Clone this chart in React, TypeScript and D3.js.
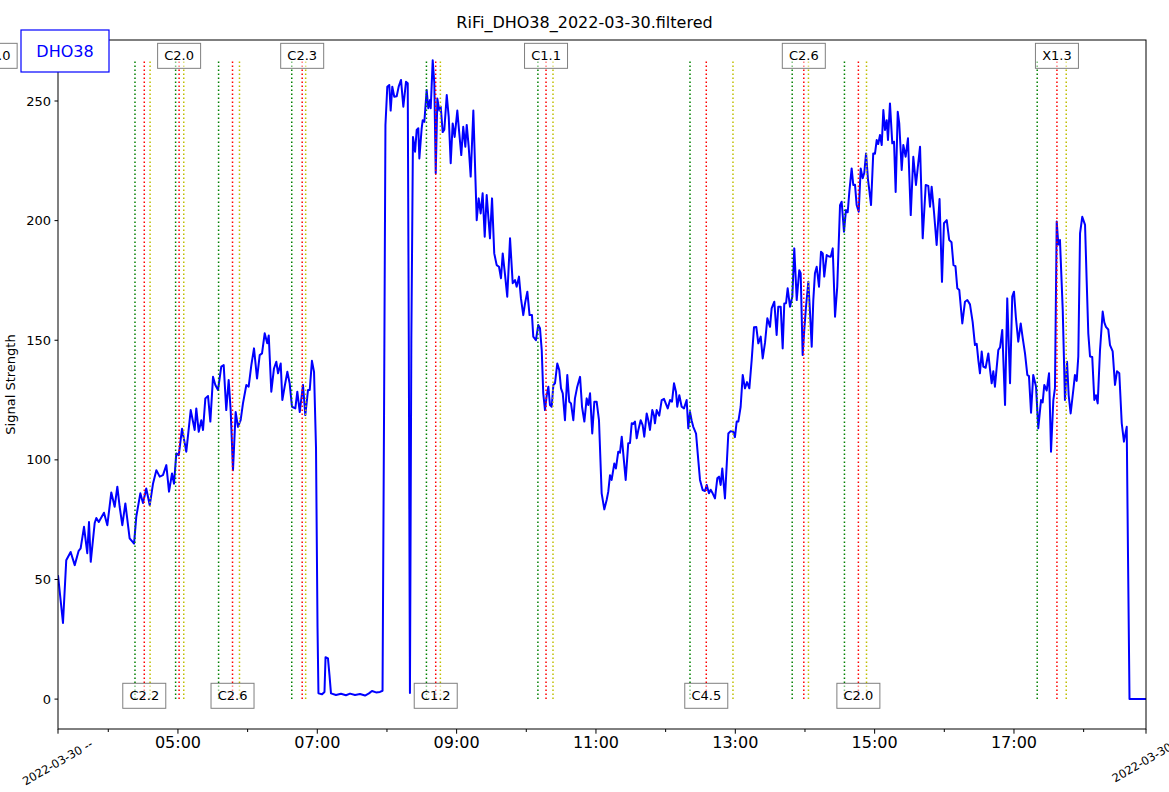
import React from "react";
import * as d3 from "d3";

// sample times, minutes after 00:00 UTC on 2022-03-30
const minuteOfDay: number[] = [
  196.7, 201.0, 203.8, 207.6, 211.1, 214.5, 216.2, 219.1, 221.9, 223.4,
  224.9, 228.3, 229.7, 231.8, 236.3, 239.2, 242.6, 245.5, 247.8, 249.8,
  252.1, 254.7, 258.4, 262.2, 264.1, 267.6, 269.9, 272.7, 275.7, 278.5,
  281.4, 284.3, 287.1, 290.0, 292.3, 294.9, 296.6, 298.6, 300.7, 303.5,
  307.2, 311.0, 314.4, 315.8, 317.9, 320.1, 321.6, 323.6, 325.9, 327.9,
  330.2, 332.2, 334.5, 337.3, 339.4, 341.6, 343.7, 345.4, 347.4, 349.7,
  351.7, 354.0, 356.0, 358.9, 360.9, 363.2, 365.5, 368.1, 370.4, 372.4,
  374.7, 376.9, 378.2, 380.4, 382.7, 384.7, 386.2, 388.5, 389.9, 391.9,
  394.2, 396.2, 398.2, 401.1, 402.8, 404.9, 407.7, 409.7, 412.0, 413.5,
  415.4, 417.2, 418.9, 420.2, 421.0, 424.1, 426.2, 427.1, 429.2, 430.5,
  431.8, 436.1, 440.4, 444.7, 448.2, 452.5, 456.8, 461.1, 464.5, 467.1,
  470.6, 474.0, 476.2, 477.5, 478.7, 480.3, 482.0, 483.2, 484.6, 486.3,
  488.4, 490.1, 492.1, 494.1, 496.4, 497.9, 498.8, 499.8, 501.0, 502.4,
  504.2, 505.6, 507.0, 507.9, 509.9, 510.8, 512.2, 514.2, 515.6, 517.1,
  517.7, 519.4, 520.8, 522.0, 523.4, 525.1, 526.3, 528.0, 529.4, 531.5,
  533.2, 534.9, 536.6, 538.3, 540.6, 542.3, 544.0, 545.7, 547.5, 548.7,
  550.4, 552.1, 554.4, 557.3, 559.0, 560.7, 562.4, 564.2, 565.9, 568.7,
  570.5, 572.4, 574.5, 576.5, 578.2, 579.7, 581.7, 583.6, 586.0, 588.3,
  590.3, 591.7, 593.7, 595.4, 597.4, 598.9, 600.9, 602.8, 604.9, 606.0,
  608.3, 610.3, 611.8, 613.3, 614.6, 616.1, 617.6, 619.0, 620.4, 621.9,
  623.3, 624.7, 626.7, 628.4, 629.9, 631.4, 633.3, 635.3, 637.0, 638.5,
  640.5, 641.9, 643.9, 646.3, 648.0, 650.0, 652.0, 653.4, 654.9, 656.8,
  658.6, 660.6, 662.6, 664.9, 667.2, 669.2, 670.6, 672.1, 673.5, 675.8,
  677.2, 679.2, 680.7, 682.2, 683.5, 685.6, 687.8, 689.3, 690.8, 692.2,
  693.6, 695.1, 696.5, 698.5, 700.2, 701.6, 703.7, 705.1, 706.5, 708.5,
  710.0, 710.8, 712.3, 714.5, 716.6, 718.6, 720.1, 721.8, 723.8, 725.5,
  727.2, 728.9, 730.0, 731.8, 733.8, 735.8, 738.1, 739.5, 741.0, 742.4,
  743.8, 746.2, 748.1, 749.6, 751.9, 753.9, 755.4, 757.3, 758.8, 760.5,
  762.5, 764.5, 766.0, 767.4, 768.8, 771.1, 774.0, 776.0, 778.3, 779.7,
  781.2, 782.6, 784.6, 786.4, 788.3, 790.1, 792.1, 794.1, 796.1, 798.1,
  799.8, 801.9, 803.6, 805.6, 807.6, 809.9, 811.3, 813.6, 815.6, 817.0,
  819.1, 820.8, 822.2, 823.7, 825.1, 827.1, 829.1, 830.8, 832.9, 835.1,
  836.3, 838.0, 839.4, 840.9, 842.9, 844.3, 845.8, 847.2, 848.6, 850.1,
  852.1, 853.8, 855.3, 856.6, 858.7, 860.7, 862.2, 863.9, 865.9, 867.8,
  870.2, 871.6, 873.6, 875.3, 876.8, 878.2, 880.2, 881.6, 883.1, 884.5,
  886.3, 888.0, 889.7, 891.1, 892.6, 894.3, 895.4, 896.9, 898.8, 900.3,
  901.8, 903.1, 904.6, 906.1, 907.5, 908.9, 910.4, 911.5, 913.2, 915.2,
  916.7, 918.1, 919.9, 921.2, 923.3, 924.7, 926.7, 928.7, 931.1, 933.3,
  935.6, 937.1, 939.1, 941.4, 944.0, 946.2, 947.7, 949.1, 951.1, 953.4,
  955.9, 958.0, 959.7, 962.1, 964.2, 966.2, 967.9, 969.6, 971.2, 972.9,
  975.5, 977.8, 979.8, 982.1, 984.4, 986.4, 987.9, 989.3, 990.7, 992.2,
  993.6, 995.6, 997.9, 999.3, 1000.8, 1002.2, 1003.6, 1006.5, 1008.0, 1009.9,
  1012.3, 1014.2, 1016.6, 1018.5, 1020.0, 1021.7, 1023.7, 1025.8, 1027.5, 1029.5,
  1031.5, 1032.9, 1034.7, 1036.6, 1039.0, 1040.9, 1043.3, 1044.7, 1046.1, 1048.2,
  1050.2, 1051.9, 1053.9, 1055.3, 1056.8, 1058.2, 1059.6, 1062.0, 1063.9, 1065.7,
  1067.1, 1068.8, 1071.1, 1072.5, 1074.0, 1075.4, 1076.9, 1078.8, 1081.2, 1082.6,
  1084.0, 1085.5, 1087.4, 1089.2, 1090.6, 1092.1, 1094.1, 1096.4, 1097.8, 1099.2,
  1101.2, 1102.7, 1105.0, 1107.0, 1108.7, 1110.7, 1112.8, 1114.7, 1117.1, 1118.2,
  1119.5, 1133.7,
];

const signal: number[] = [
  51.8, 31.8, 58, 61.5, 56, 62, 63, 72, 61, 74,
  57.4, 73.6, 75.7, 74, 77.9, 72.7, 86.4, 80.4, 88.8, 80.4,
  72.7, 81.8, 67.2, 65, 76.2, 86, 82, 88, 81, 90,
  95.7, 93, 93.6, 97.8, 86.7, 94.3, 90, 102.7, 102, 113,
  103.4, 120.8, 112.5, 121.5, 111.7, 116.6, 112.5, 125.7, 126.7, 116,
  134.7, 131.3, 129.2, 139, 139.6, 120.8, 133.4, 120.8, 95.7, 120,
  113.8, 116.6, 123.6, 131.3, 130.6, 139.6, 146.6, 134, 143.8, 144.5,
  152.9, 148.7, 152, 128.5, 138.2, 141, 136.2, 140.3, 125, 130.6,
  136.8, 132, 122.2, 121.5, 128.5, 120, 131.3, 118.7, 129.2, 129.2,
  141.4, 136.8, 105, 30, 2.4, 2, 3, 17.5, 17, 10,
  2.4, 1.7, 2.2, 1.6, 2.3, 1.7, 2.1, 1.5, 2.4, 3.4,
  2.8, 3.0, 3.5, 120, 240, 256, 256.7, 246, 256, 251.8,
  252, 256, 258.8, 247.6, 258, 257.4, 150, 2.5, 150, 235,
  228.8, 237.9, 238.6, 226, 238.6, 242, 241.3, 254.6, 247, 250.4,
  247, 267, 257.4, 219.8, 251, 246, 247.6, 237, 238, 252.5,
  243.4, 224, 240.6, 235, 246, 236.5, 227.4, 239.2, 230.9, 240,
  230.9, 218.4, 246, 200.2, 209.3, 203, 211.4, 193.3, 210.7, 192.6,
  209.3, 186.3, 181.4, 180.7, 175.9, 186.3, 177.3, 168.2, 192.6, 173.8,
  175.2, 172.4, 176.6, 167.5, 160.5, 165.4, 170.3, 160.5, 160.5, 151.5,
  150, 156.4, 155, 145.9, 127.8, 120.8, 127, 130.6, 122.9, 122.2,
  131.3, 132, 140.3, 137.5, 129.9, 127.8, 116.6, 135.5, 124.3, 123.6,
  116.6, 125.7, 130.6, 134.7, 122.2, 116, 125.7, 122.9, 127.8, 111,
  124.3, 124.3, 116.6, 86, 79.3, 83.2, 86.7, 93.6, 91.6, 98.5,
  96.4, 103.4, 103, 109.7, 102.7, 91.6, 106.9, 107, 115.3, 115,
  116, 109, 112.5, 116.6, 114.5, 109.7, 119.4, 116.5, 112.5, 120.8,
  118.5, 115.3, 120.8, 118.5, 125, 125.5, 123.6, 121.5, 125, 124.3,
  132, 128.5, 122.2, 127, 122.2, 121.5, 125, 113.2, 120, 116.5,
  113.8, 111, 100, 91.6, 87.4, 87, 89.5, 86, 87.5, 86,
  83.9, 92.3, 93, 89.5, 96.4, 83.9, 111, 112, 111.7, 109.5,
  116, 116, 122.2, 135.5, 129.9, 132.5, 129.9, 141.7, 155.4, 155.5,
  148.7, 151.5, 142.4, 149, 159.2, 155.6, 163.3, 166.1, 152.2, 164,
  164, 146.6, 165.4, 165.5, 171.7, 164, 168.2, 188.4, 166.8, 179.3,
  178, 143.8, 154.3, 164, 174.4, 162, 147.3, 167, 178, 180.7,
  172.4, 187, 186.3, 176.6, 185.6, 185, 184.9, 188.4, 159.8, 172.4,
  206.5, 207.9, 195.4, 204.4, 203.5, 212, 221.8, 214.9, 215, 206.5,
  203.7, 221.8, 217.7, 220, 228.1, 217, 212.8, 206.5, 228.1, 228,
  233.7, 232, 235.8, 231.6, 246.2, 237.9, 242, 233.7, 249, 232.3,
  233, 212, 245.5, 240.6, 221.2, 231.6, 226.7, 234.4, 202.3, 226.7,
  214.9, 222, 230.9, 192.6, 214.9, 214.5, 205.8, 214.2, 203.7, 189.8,
  209, 174.4, 198.9, 200.2, 191.9, 191, 181.4, 181, 171.7, 171,
  157, 166.1, 166.8, 165, 157.7, 148, 148.5, 141.7, 136.2, 145.3,
  139, 138.5, 144.5, 138, 132, 137, 130.6, 145.9, 147, 154.3,
  122.9, 167.5, 132, 168.2, 170.3, 159.2, 149.4, 157, 151, 144.5,
  135.5, 135, 119.7, 135.5, 130.6, 113.2, 125, 124, 131.3, 129,
  136.2, 103.4, 125, 130, 199.6, 190, 191.9, 162.6, 125, 141,
  127, 119.4, 129.2, 135.5, 133, 143.2, 194.7, 201.6, 198.2, 175,
  152.9, 143.2, 143, 125, 127, 123.6, 145.9, 162, 157.5, 155.6,
  154.5, 148, 145.3, 131.3, 137, 136.2, 115.3, 107.6, 113.8, 60,
  0, 0,
];

// GOES flare events: start, peak, end (UTC)
const flareClass = ["C1.0", "C2.2", "C2.0", "C2.6", "C2.3", "C1.2", "C1.1", "C4.5", "C2.6", "C2.0", "X1.3"];
const flareStart = ["02:15", "04:23", "04:58", "05:35", "06:38", "08:34", "10:10", "12:21", "13:49", "14:34", "17:20"];
const flarePeak = ["02:23", "04:31", "05:01", "05:47", "06:47", "08:42", "10:17", "12:35", "13:59", "14:46", "17:37"];
const flareEnd = ["02:29", "04:36", "05:05", "05:53", "06:50", "08:46", "10:23", "12:58", "14:03", "14:53", "17:45"];

const yTicks = [0, 50, 100, 150, 200, 250];

const dayStart = Date.UTC(2022, 2, 30);
const toDate = (m: number) => new Date(dayStart + m * 60000);
const hhmm = (s: string) => {
  const [h, m] = s.split(":").map(Number);
  return toDate(h * 60 + m);
};

const font = "DejaVu Sans, sans-serif";

export default function App() {
  const width = 1169;
  const height = 792;
  const margin = { top: 40, right: 23, bottom: 63, left: 58 };
  const innerW = width - margin.left - margin.right;
  const innerH = height - margin.top - margin.bottom;

  const times = minuteOfDay.map(toDate);
  const x = d3
    .scaleUtc()
    .domain(d3.extent(times) as [Date, Date])
    .range([0, innerW]);
  const y = d3.scaleLinear().domain([-12.5, 275.5]).range([innerH, 0]);

  const line = d3
    .line<number>()
    .x((_, i) => x(times[i]))
    .y((d) => y(d));

  const top = d3.max(signal) || 0;
  const [t0, t1] = x.domain();
  const hours = d3.utcHour.range(t0, t1);
  const major = hours.filter((d) => d.getUTCHours() % 2 === 1);
  const minor = hours.filter((d) => d.getUTCHours() % 2 === 0);
  const fmt = d3.utcFormat("%H:%M");

  const flareLines = [
    { times: flareStart, color: "#008000" },
    { times: flarePeak, color: "#ff0000" },
    { times: flareEnd, color: "#bfbf00" },
  ];

  return (
    <div style={{ position: "absolute", left: 0, top: 0 }}>
      <svg width={width} height={height} style={{ display: "block", fontFamily: font }}>
        <rect width={width} height={height} fill="white" />
        <defs>
          <clipPath id="plot">
            <rect width={innerW} height={innerH} />
          </clipPath>
        </defs>

        <text x={width / 2} y={22} textAnchor="middle" dominantBaseline="central" fontSize={16}>
          RiFi_DHO38_2022-03-30.filtered
        </text>

        <g transform={`translate(${margin.left},${margin.top})`}>
          <g clipPath="url(#plot)">
            <path d={line(signal) || ""} fill="none" stroke="#0000ff" strokeWidth={2} strokeLinejoin="round" />
            {flareLines.map((fl) =>
              fl.times.map((t, i) => (
                <line
                  key={fl.color + i}
                  x1={x(hhmm(t))}
                  x2={x(hhmm(t))}
                  y1={y(0)}
                  y2={y(top)}
                  stroke={fl.color}
                  strokeWidth={1.5}
                  strokeDasharray="1.5 2.5"
                />
              ))
            )}
          </g>

          {flarePeak.map((t, i) => {
            const cx = x(hhmm(t));
            const cy = i % 2 === 0 ? y(top) - 4.5 : y(0) - 3.3;
            return (
              <g key={"lab" + i} transform={`translate(${cx},${cy})`}>
                <rect
                  x={-21.5}
                  y={-12.5}
                  width={43}
                  height={25}
                  fill="white"
                  fillOpacity={0.5}
                  stroke="black"
                  strokeOpacity={0.5}
                  strokeWidth={1}
                />
                <text textAnchor="middle" dominantBaseline="central" fontSize={13}>
                  {flareClass[i]}
                </text>
              </g>
            );
          })}

          <rect width={innerW} height={innerH} fill="none" stroke="black" strokeWidth={1} />

          {yTicks.map((v) => (
            <g key={"y" + v} transform={`translate(0,${y(v)})`}>
              <line x1={-3.5} x2={0} stroke="black" />
              <text x={-7} textAnchor="end" dominantBaseline="central" fontSize={13}>
                {v}
              </text>
            </g>
          ))}
          <text
            transform={`translate(${-48},${innerH / 2}) rotate(-90)`}
            textAnchor="middle"
            dominantBaseline="central"
            fontSize={13}
          >
            Signal Strength
          </text>

          {major.map((d) => (
            <g key={"xM" + d.getTime()} transform={`translate(${x(d)},${innerH})`}>
              <line y1={0} y2={4.7} stroke="black" />
              <text y={13.5} textAnchor="middle" dominantBaseline="central" fontSize={16}>
                {fmt(d)}
              </text>
            </g>
          ))}
          {minor.map((d) => (
            <line key={"xm" + d.getTime()} x1={x(d)} x2={x(d)} y1={innerH} y2={innerH + 3} stroke="black" />
          ))}
          {[t0, t1].map((d, i) => (
            <g key={"edge" + i} transform={`translate(${x(d)},${innerH})`}>
              <line y1={0} y2={4.7} stroke="black" />
              <text
                transform={`translate(${i === 0 ? -0.5 : -4},${33.5}) rotate(-30)`}
                textAnchor="middle"
                dominantBaseline="central"
                fontSize={11.5}
              >
                {i === 0 ? "2022-03-30 --" : "2022-03-30"}
              </text>
            </g>
          ))}
        </g>

        <g transform="translate(21,30)">
          <rect width={88} height={42} fill="white" stroke="#0000ff" strokeWidth={1.2} />
          <text x={44} y={21} textAnchor="middle" dominantBaseline="central" fontSize={16} fill="#0000ff">
            DHO38
          </text>
        </g>
      </svg>
    </div>
  );
}
